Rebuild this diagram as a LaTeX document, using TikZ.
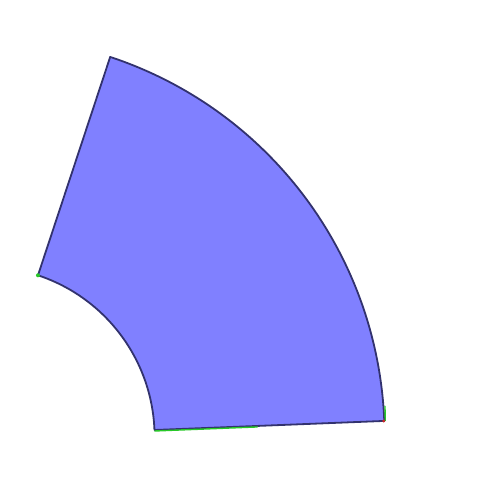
\documentclass[tikz,border=0pt]{standalone}
\usetikzlibrary{calc}
\definecolor{sectorfill}{RGB}{128,128,255}
\definecolor{sectoredge}{RGB}{50,50,110}
\definecolor{markgreen}{RGB}{40,200,40}
\definecolor{markred}{RGB}{200,40,40}
\tikzset{
  sector/.style={fill=sectorfill, draw=sectoredge, line width=1.8pt, line join=round},
  greenmark/.style={draw=markgreen, line width=1.4pt},
}
\begin{document}
\begin{tikzpicture}[x=1pt,y=1pt]
\useasboundingbox (0,0) rectangle (498,482);
\coordinate (C) at (-15.4,45.3);
\coordinate (outerTop) at ($(C)+(71.7:400)$);
\coordinate (outerBot) at ($(C)+(2.26:399.5)$);
\coordinate (innerBot) at ($(C)+(2.26:170)$);
\coordinate (innerTop) at ($(C)+(71.7:170)$);
\draw[sector] (outerTop) arc[start angle=71.7, end angle=2.26, radius=400]
  -- (innerBot) arc[start angle=2.26, end angle=71.7, radius=170] -- cycle;
\coordinate (greenEnd) at ($(innerBot)!0.45!(outerBot)$);
\draw[greenmark] ($(innerBot)+(0,-1)$) -- ($(greenEnd)+(0,-1)$);
\draw[greenmark] ($(outerBot)+(1.5,0)$) -- ($(outerBot)+(1.2,15)$);
\fill[markgreen] (innerTop) circle (2);
\fill[markred] (outerBot) circle (1.6);
\end{tikzpicture}
\end{document}
